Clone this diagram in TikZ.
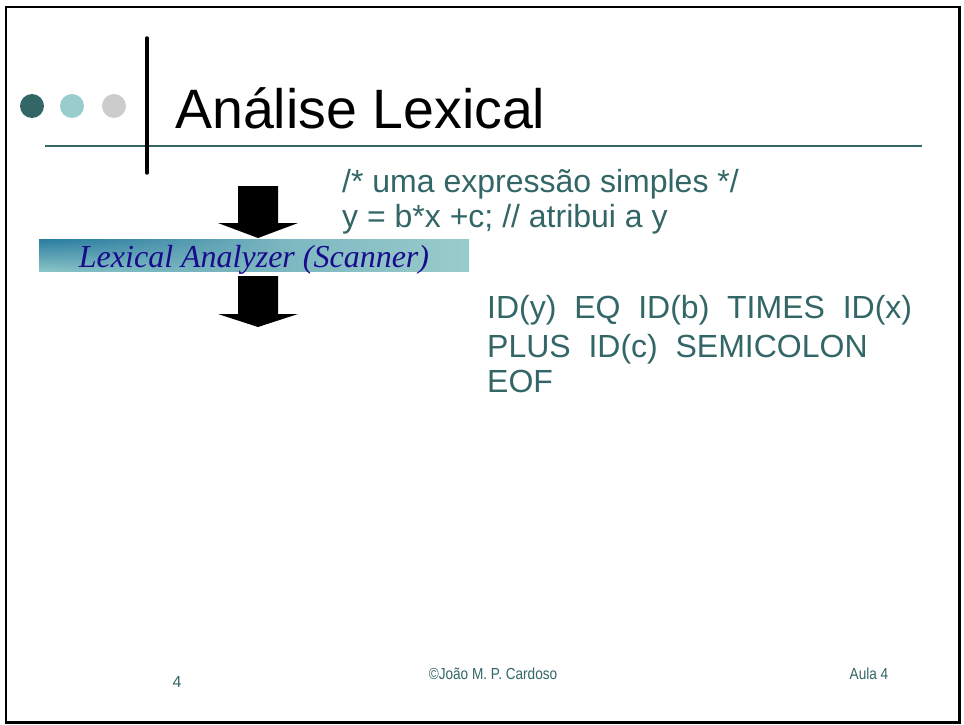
\documentclass[tikz,border=0pt]{standalone}
\usepackage{fontspec}
\setmainfont{Liberation Sans}
\newfontfamily\serifit{Liberation Serif}
\newfontfamily\narrowfont[FakeStretch=0.85]{Liberation Sans}
\usetikzlibrary{fadings}
\definecolor{teal1}{HTML}{336666}
\definecolor{lteal}{HTML}{99CCCC}
\definecolor{lgray}{HTML}{CCCCCC}
\definecolor{bardark}{HTML}{2A7CA0}
\definecolor{barmid}{HTML}{8CC6C8}
\definecolor{labblue}{HTML}{1A0A8C}
\tikzfading[name=faderight, left color=transparent!0, right color=transparent!100]
\tikzset{
  blockarrow/.style={fill=black, draw=none},
  body/.style={text=teal1, font=\fontsize{32}{36}\selectfont, anchor=base west, inner sep=0pt},
  foot/.style={text=teal1, anchor=base, inner sep=0pt},
  dot/.style={circle, minimum size=24pt, inner sep=0pt, draw=none}
}
\begin{document}
\begin{tikzpicture}[x=1pt,y=-1pt]
\useasboundingbox (0,0) rectangle (964,725);
\fill[white] (0,0) rectangle (964,725);
% frame
\draw[line width=2.5pt] (6,7) rectangle (959.5,722.5);
% header
\node[dot, fill=teal1] (d1) at (32,106) {};
\node[dot, fill=lteal] (d2) at (72,106) {};
\node[dot, fill=lgray] (d3) at (114,106) {};
\draw[teal1, line width=2pt] (45,146) -- (922,146);
\draw[line width=3.5pt, line cap=round] (147,38) -- (147,173);
\node[anchor=base west, inner sep=0pt, font=\fontsize{55.5}{60}\selectfont] (title) at (175,128) {Análise Lexical};
% source code
\node[body] (c1) at (342,192) {/* uma expressão simples */};
\node[body] (c2) at (342,227) {y = b*x +c; // atribui a y};
% arrows
\fill[blockarrow] (238,186) -- (278,186) -- (278,223) -- (298,223) -- (258,238) -- (218,223) -- (238,223) -- cycle;
% bar
\shade[left color=bardark!60!lteal, right color=lteal] (39,239) rectangle (469,271);
\shade[top color=bardark, bottom color=barmid, path fading=faderight] (39,239) rectangle (280,271);
\node[anchor=base, inner sep=0pt, text=labblue, font=\serifit\itshape\fontsize{32}{36}\selectfont] (lex) at (254,267) {Lexical Analyzer (Scanner)};
\fill[blockarrow] (238,276) -- (278,276) -- (278,314) -- (298,314) -- (258,327) -- (218,314) -- (238,314) -- cycle;
% tokens
\node[body] (t1) at (487,318) {ID(y)\ \ EQ\ \ ID(b)\ \ TIMES\ \ ID(x)};
\node[body] (t2) at (487,357) {PLUS\ \ ID(c)\ \ SEMICOLON};
\node[body] (t3) at (487,392) {EOF};
% footer
\node[foot, font=\fontsize{16}{18}\selectfont] (pg) at (177,687) {4};
\node[foot, font=\narrowfont\fontsize{16}{18}\selectfont] (cp) at (493,679) {©João M. P. Cardoso};
\node[foot, font=\narrowfont\fontsize{16}{18}\selectfont] (au) at (869,679) {Aula 4};
\end{tikzpicture}
\end{document}
